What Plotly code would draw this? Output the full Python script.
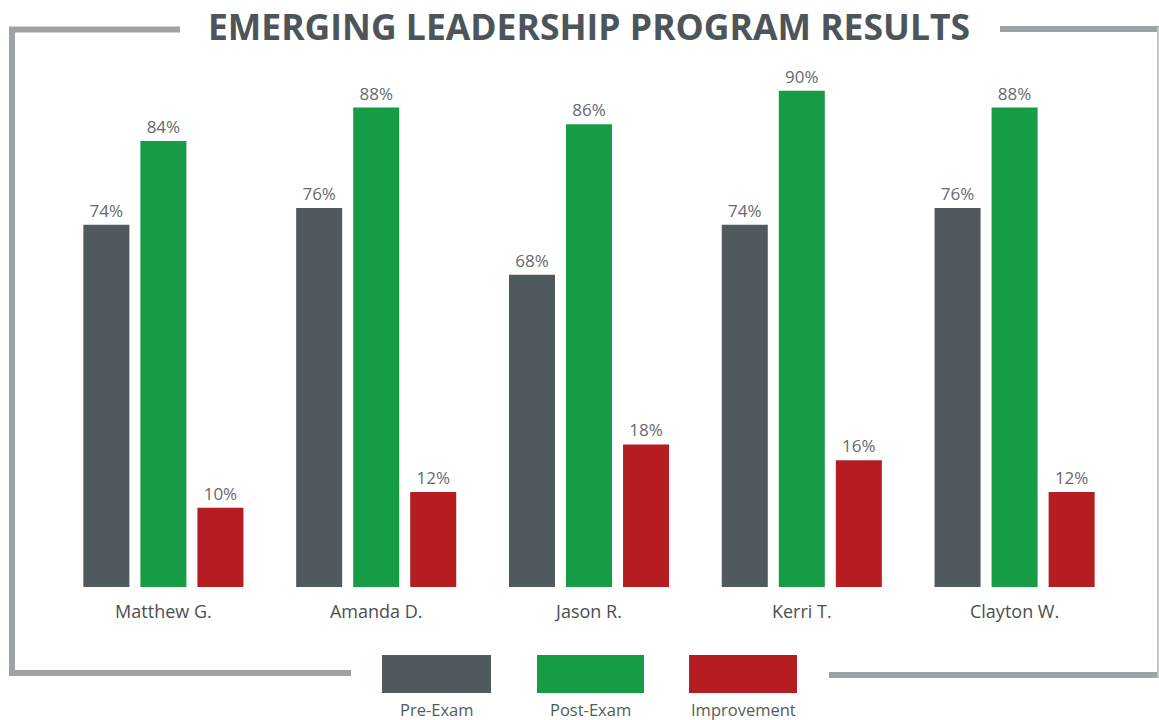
import plotly.graph_objects as go

# ---- data ----
names = ["Matthew G.", "Amanda D.", "Jason R.", "Kerri T.", "Clayton W."]
pre_exam = [74, 76, 68, 74, 76]
post_exam = [84, 88, 86, 90, 88]
improvement = [10, 12, 18, 16, 12]
legend_labels = ["Pre-Exam", "Post-Exam", "Improvement"]

# ---- style ----
W, H = 1159, 720
L, R, T, B = 57, 38, 60, 133
GRAY = "#4f595e"
GREEN = "#179c46"
RED = "#b41e23"
FRAME = "#9ea2a4"
TEXT = "#666a6c"
FONT = "Open Sans"

plot_w = W - L - R
plot_h = H - T - B


def px(x):
    return (x - L) / plot_w


def py(y):
    return (H - B - y) / plot_h


fig = go.Figure()
for vals, col, nm, og, ax in [
    (pre_exam, GRAY, legend_labels[0], "1", "y"),
    (post_exam, GREEN, legend_labels[1], "2", "y"),
    (improvement, RED, legend_labels[2], "3", "y2"),
]:
    fig.add_trace(go.Bar(
        x=names, y=vals, name=nm, marker_color=col, marker_line_width=0,
        offsetgroup=og, yaxis=ax,
        texttemplate="%{y}%", textposition="outside",
        textfont=dict(family=FONT, size=17, color=TEXT),
        cliponaxis=False, showlegend=False, hoverinfo="skip",
    ))

shapes = []
line = dict(color=FRAME, width=6)
# frame segments
shapes.append(dict(type="line", xref="paper", yref="paper", x0=px(9), x1=px(180), y0=py(29.5), y1=py(29.5), line=line))
shapes.append(dict(type="line", xref="paper", yref="paper", x0=px(1000), x1=px(1162), y0=py(29), y1=py(29), line=line))
shapes.append(dict(type="line", xref="paper", yref="paper", x0=px(12), x1=px(12), y0=py(27), y1=py(676), line=line))
shapes.append(dict(type="line", xref="paper", yref="paper", x0=px(9), x1=px(351), y0=py(673), y1=py(673), line=line))
shapes.append(dict(type="line", xref="paper", yref="paper", x0=px(829), x1=px(1162), y0=py(675), y1=py(675), line=line))
shapes.append(dict(type="line", xref="paper", yref="paper", x0=px(1158), x1=px(1158), y0=py(27), y1=py(678), line=dict(color="#c4c7c8", width=2)))

# legend swatches
swatches = [(382, 491, GRAY), (537, 644, GREEN), (689, 797, RED)]
annotations = []
for (x0, x1, col), lab in zip(swatches, legend_labels):
    shapes.append(dict(type="rect", xref="paper", yref="paper", x0=px(x0), x1=px(x1),
                       y0=py(693), y1=py(655), fillcolor=col, line_width=0))
    annotations.append(dict(xref="paper", yref="paper", x=px((x0 + x1) / 2), y=py(709.5),
                            text=lab, showarrow=False, xanchor="center", yanchor="middle",
                            font=dict(family=FONT, size=16.5, color="#555a5c")))

fig.update_layout(
    width=W, height=H,
    margin=dict(l=L, r=R, t=T, b=B, pad=0),
    paper_bgcolor="white", plot_bgcolor="white",
    barmode="group", bargap=0.196, bargroupgap=0.193,
    title=dict(text="<b>EMERGING LEADERSHIP PROGRAM RESULTS</b>",
               x=589 / W, xref="container", xanchor="center",
               y=1 - 27.5 / H, yref="container", yanchor="middle",
               font=dict(family=FONT, size=35.5, color="#4d555a")),
    xaxis=dict(showgrid=False, zeroline=False, showline=False,
               ticks="outside", ticklen=8, tickcolor="rgba(0,0,0,0)",
               tickfont=dict(family=FONT, size=18, color="#4a4f52")),
    yaxis=dict(range=[30.68, 30.68 + plot_h / 8.364], visible=False, showgrid=False),
    yaxis2=dict(range=[0, plot_h / 7.92], overlaying="y", visible=False, showgrid=False),
    shapes=shapes, annotations=annotations,
    showlegend=False, hovermode=False,
)

fig.write_html("out.html", config={"displayModeBar": False},
               post_script="document.body.style.margin='0';document.body.style.overflow='hidden';")
